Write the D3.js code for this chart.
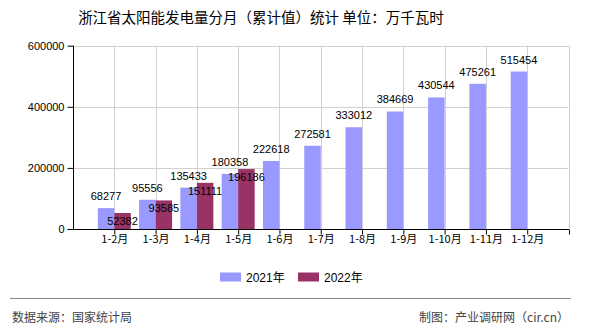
<!DOCTYPE html>
<html><head><meta charset="utf-8">
<script src="https://cdn.jsdelivr.net/npm/d3@7"></script>
<style>
body{margin:0;background:#fff;}
text{font-family:"Liberation Sans","Noto Sans CJK SC",sans-serif;}
</style></head>
<body><svg id="c" width="590" height="330"></svg>
<script>
const categories = ["1-2月","1-3月","1-4月","1-5月","1-6月","1-7月","1-8月","1-9月","1-10月","1-11月","1-12月"];
const values2021 = [68277,95556,135433,180358,222618,272581,333012,384669,430544,475261,515454];
const values2022 = [52382,93585,151111,196186];
const yTicks = [0,200000,400000,600000];
const seriesNames = ["2021年","2022年"];
const colors = ["#9999ff","#993366"];

(function(){
const svg = d3.select("#c");
const pL = 73, pR = 568.5, pT = 45.7, pB = 229;
const x = d3.scalePoint().domain(categories).range([pL,pR]).padding(1);
const y = d3.scaleLinear().domain([0,600000]).range([pB,pT]);
const bw = 16.5;
const cjk = '"Noto Sans CJK SC",sans-serif';

// title
svg.append("text").attr("x",261).attr("y",23).attr("text-anchor","middle")
  .style("font-family",cjk).style("font-size","14.5px").attr("fill","#000")
  .text("浙江省太阳能发电量分月（累计值）统计 单位：万千瓦时");

// gridlines
const g = svg.append("g");
g.selectAll("line.h").data(yTicks.filter(d=>d>0)).join("line")
  .attr("x1",pL).attr("x2",pR).attr("y1",d=>Math.round(y(d))+0.5).attr("y2",d=>Math.round(y(d))+0.5)
  .attr("stroke","#d0d0d0");
const vx = categories.map(c=>x(c)).concat([pR]);
g.selectAll("line.v").data(vx).join("line")
  .attr("x1",d=>Math.round(d)+0.5).attr("x2",d=>Math.round(d)+0.5).attr("y1",pT).attr("y2",pB)
  .attr("stroke","#d0d0d0");

// bars
svg.append("g").selectAll("rect").data(values2021).join("rect")
  .attr("x",(d,i)=>x(categories[i])-bw).attr("width",bw)
  .attr("y",d=>y(d)).attr("height",d=>pB-y(d)).attr("fill",colors[0]);
svg.append("g").selectAll("rect").data(values2022).join("rect")
  .attr("x",(d,i)=>x(categories[i])).attr("width",bw)
  .attr("y",d=>y(d)).attr("height",d=>pB-y(d)).attr("fill",colors[1]);

// axes
const ya = d3.axisLeft(y).tickValues(yTicks).tickSize(5).tickFormat(d3.format("d"));
const yg = svg.append("g").attr("transform",`translate(${pL+0.5},0)`).call(ya);
yg.select(".domain").attr("d",`M0,${pT}V${pB+0.5}`).attr("stroke","#000");
yg.selectAll("text").style("font-size","11px").attr("fill","#000").attr("x",-9);
yg.selectAll(".tick line").attr("stroke","#000").attr("x2",-6);

const xa = d3.axisBottom(x).tickSize(5);
const xg = svg.append("g").attr("transform",`translate(0,${pB+0.5})`).call(xa);
xg.select(".domain").attr("d",`M${pL},0H${pR+0.5}`).attr("stroke","#000");
xg.selectAll("text").style("font-family",cjk).style("font-size","11px").attr("fill","#000").attr("y",6);
xg.append("line").attr("x1",Math.round(pR)+0.5).attr("x2",Math.round(pR)+0.5).attr("y1",0).attr("y2",5).attr("stroke","#000");

// value labels
svg.append("g").selectAll("text").data(values2021).join("text")
  .attr("x",(d,i)=>x(categories[i])-bw/2).attr("y",d=>y(d)-8)
  .attr("text-anchor","middle").style("font-size","11px").attr("fill","#000").text(d=>d);
svg.append("g").selectAll("text").data(values2022).join("text")
  .attr("x",(d,i)=>x(categories[i])+bw/2).attr("y",d=>y(d)+12)
  .attr("text-anchor","middle").style("font-size","11px").attr("fill","#000").text(d=>d);

// legend
const lx = [220, 298];
const lg = svg.append("g");
seriesNames.forEach((n,i)=>{
  lg.append("rect").attr("x",lx[i]).attr("y",272.5).attr("width",21).attr("height",9).attr("fill",colors[i]);
  lg.append("text").attr("x",lx[i]+26).attr("y",281.5).style("font-size","12px").attr("fill","#000").text(n);
});

// footer
svg.append("line").attr("x1",10).attr("x2",571).attr("y1",298.5).attr("y2",298.5).attr("stroke","#888").attr("stroke-width",1);
svg.append("text").attr("x",12).attr("y",322).style("font-family",cjk).style("font-size","12px").attr("fill","#444").text("数据来源：国家统计局");
svg.append("text").attr("x",569).attr("y",322).attr("text-anchor","end").style("font-family",cjk).style("font-size","12px").attr("fill","#444").text("制图：产业调研网（cir.cn）");
})();
</script></body></html>
